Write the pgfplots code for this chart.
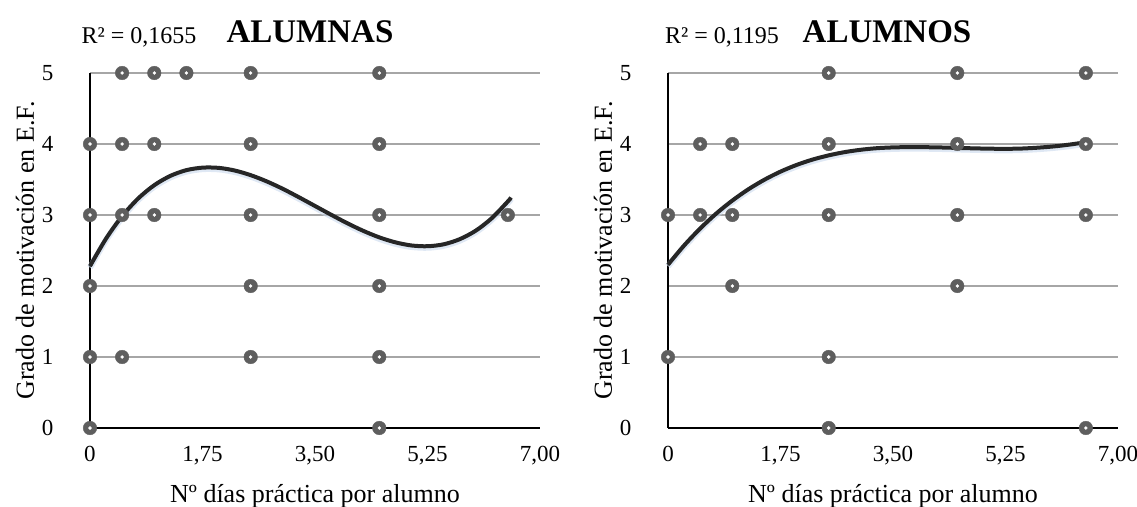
\documentclass[border=0pt]{standalone}
\usepackage{fontspec}
\setmainfont{Liberation Serif}
\usepackage{pgfplots}
\usepackage{pgfplotstable}
\pgfplotsset{compat=1.18}
\definecolor{gridgray}{HTML}{A6A6A6}
\definecolor{markgray}{HTML}{5E5E5E}
\definecolor{trend}{HTML}{262626}
\definecolor{glow}{HTML}{C9D8EC}

\pgfplotstableread{
x y
0.5 5
1 5
1.5 5
2.5 5
4.5 5
0 4
0.5 4
1 4
2.5 4
4.5 4
0 3
0.5 3
1 3
2.5 3
4.5 3
6.5 3
0 2
2.5 2
4.5 2
0 1
0.5 1
2.5 1
4.5 1
0 0
4.5 0
}\alumnas

\pgfplotstableread{
x y
2.5 5
4.5 5
6.5 5
0.5 4
1 4
2.5 4
4.5 4
6.5 4
0 3
0.5 3
1 3
2.5 3
4.5 3
6.5 3
1 2
4.5 2
0 1
2.5 1
2.5 0
6.5 0
}\alumnos

\pgfplotstableread{
x y
0 2.28
0.25 2.668
0.5 2.984
0.75 3.233
1.0 3.420
1.25 3.551
1.5 3.632
1.75 3.667
2.0 3.664
2.25 3.627
2.5 3.561
2.75 3.473
3.0 3.368
3.25 3.250
3.5 3.127
3.75 3.004
4.0 2.885
4.25 2.777
4.5 2.685
4.75 2.615
5.0 2.571
5.25 2.560
5.5 2.587
5.75 2.659
6.0 2.779
6.25 2.955
6.5 3.191
6.55 3.246
}\trendA

\pgfplotstableread{
x y
0 2.30
0.25 2.570
0.5 2.809
0.75 3.020
1.0 3.203
1.25 3.362
1.5 3.497
1.75 3.611
2.0 3.705
2.25 3.781
2.5 3.840
2.75 3.886
3.0 3.919
3.25 3.941
3.5 3.952
3.75 3.956
4.0 3.955
4.25 3.951
4.5 3.945
4.75 3.939
5.0 3.934
5.25 3.932
5.5 3.936
5.75 3.948
6.0 3.966
6.25 3.992
6.5 4.025
}\trendB

\pgfplotsset{
 motiv/.style={
  scale only axis, width=450pt, height=355pt,
  xmin=0, xmax=7, ymin=0, ymax=5,
  axis x line*=bottom, axis y line*=left,
  axis line style={black, line width=2.5pt, -},
  xtick={0,1.75,3.5,5.25,7},
  xticklabels={0,{1,75},{3,50},{5,25},{7,00}},
  ytick={0,1,2,3,4,5},
  major tick length=0pt,
  ymajorgrids, grid style={gridgray, line width=2pt},
  tick label style={font=\fontsize{23}{27}\selectfont},
  /pgf/number format/assume math mode=true,
  xticklabel shift=15pt, yticklabel shift=33pt,
  xlabel={Nº días práctica por alumno},
  ylabel={Grado de motivación en E.F.},
  every axis x label/.style={at={(axis description cs:0.5,0)}, anchor=base, yshift=-74pt, font=\fontsize{26}{30}\selectfont},
  every axis y label/.style={at={(axis description cs:0,0.5)}, anchor=center, xshift=-65pt, rotate=90, font=\fontsize{26}{30}\selectfont},
  clip=false,
 }
}

\begin{document}
\begin{tikzpicture}
\useasboundingbox (0,0) rectangle (1137pt,506pt);
\begin{axis}[motiv, at={(90pt,78pt)}, anchor=south west]
\addplot[only marks, mark=*, mark size=6.8pt, color=markgray] table {\alumnas};
\addplot[only marks, mark=*, mark size=1.5pt, color=white] table {\alumnas};
\addplot[glow, line width=6pt, opacity=0.6, yshift=-1.5pt, smooth] table {\trendA};
\addplot[trend, line width=4pt, smooth] table {\trendA};
\end{axis}
\begin{axis}[motiv, at={(668pt,78pt)}, anchor=south west]
\addplot[only marks, mark=*, mark size=6.8pt, color=markgray] table {\alumnos};
\addplot[only marks, mark=*, mark size=1.5pt, color=white] table {\alumnos};
\addplot[glow, line width=6pt, opacity=0.6, yshift=-1.5pt, smooth] table {\trendB};
\addplot[trend, line width=4pt, smooth] table {\trendB};
\end{axis}
\node[anchor=base, font=\fontsize{24}{28}\selectfont] at (139pt,462pt) {R² = 0,1655};
\node[anchor=base, font=\fontsize{33}{38}\selectfont\bfseries] at (310pt,463pt) {ALUMNAS};
\node[anchor=base, font=\fontsize{24}{28}\selectfont] at (722pt,462pt) {R² = 0,1195};
\node[anchor=base, font=\fontsize{33}{38}\selectfont\bfseries] at (887pt,463pt) {ALUMNOS};
\end{tikzpicture}
\end{document}
